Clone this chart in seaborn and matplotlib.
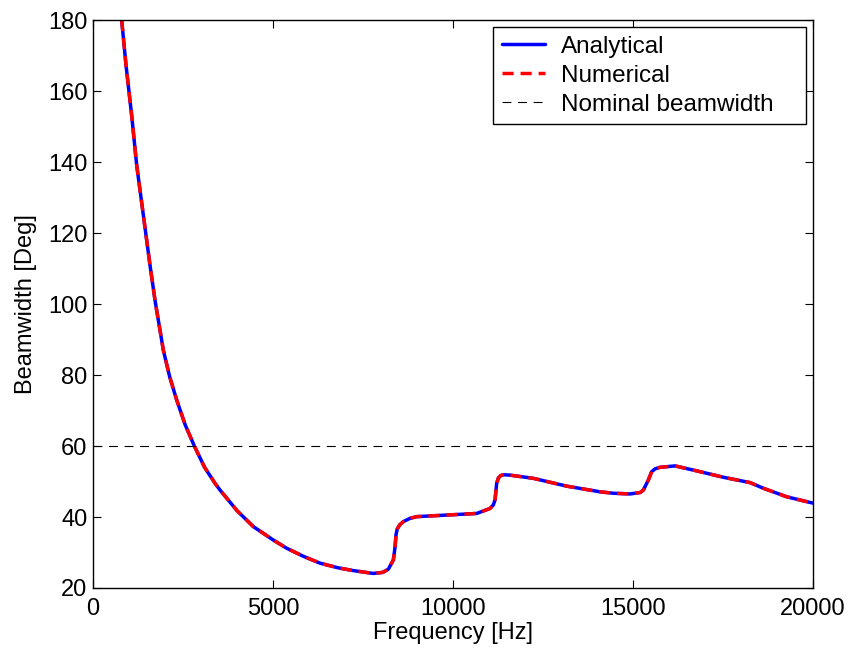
import numpy as np
import pandas as pd
import matplotlib
matplotlib.use("Agg")
import matplotlib.pyplot as plt
import seaborn as sns

freq = [797, 917, 1074, 1213, 1398, 1583, 1722, 1954, 2130, 2324, 2560, 2815,
        3100, 3389, 3528, 4000, 4453, 5009, 5380, 5850, 6306, 6800, 7231, 7787, 8050, 8204,
        8343, 8390, 8417, 8450, 8520, 8620, 8800, 8990, 9917, 10657, 11028, 11120, 11167, 11213,
        11260, 11330, 11400, 11583, 12231, 13157, 14083, 14453, 14917, 15200, 15287,
        15425, 15519, 15620, 15750, 16167, 16769, 17509, 18250, 18620, 19269, 20000]
beamwidth = [180, 167.3, 153.2, 139.2, 125.1, 111.0, 101.1, 87.0, 79.5, 73.0, 66.0, 60.0,
             54.0, 49.5, 47.6, 41.8, 37.3, 33.5, 31.2, 28.9, 27.0, 25.7, 24.9, 24.1, 24.4, 25.3,
             27.9, 31.5, 35.0, 36.6, 37.8, 38.7, 39.6, 40.1, 40.6, 41.0, 42.4, 43.4, 44.8, 49.5,
             51.0, 51.7, 51.9, 51.8, 50.9, 48.7, 47.1, 46.7, 46.5, 46.9, 47.6,
             50.4, 52.8, 53.6, 54.0, 54.4, 53.0, 51.2, 49.7, 48.1, 45.7, 43.9]
nominal_level = 60
x_limits = [0, 20000]
y_limits = [20, 180]

sns.set_style("ticks")
plt.rcParams['font.family'] = ['Liberation Sans', 'DejaVu Sans']
plt.rcParams['text.color'] = 'black'
plt.rcParams['axes.labelcolor'] = 'black'

df = pd.DataFrame({"Frequency": freq, "Beamwidth": beamwidth})

fig = plt.figure(figsize=(8.5, 6.5), dpi=100)
ax = fig.add_axes([0.1094, 0.0954, 0.8471, 0.8736])

sns.lineplot(data=df, x="Frequency", y="Beamwidth", ax=ax, color="blue",
             linewidth=2.5, label="Analytical", estimator=None, sort=False)
sns.lineplot(data=df, x="Frequency", y="Beamwidth", ax=ax, color="red",
             linewidth=2.5, linestyle=(0, (3.2, 2.0)), label="Numerical",
             estimator=None, sort=False)
ax.axhline(nominal_level, color="black", linewidth=0.8, linestyle=(0, (8, 6)),
           label="Nominal beamwidth")

ax.set_xlim(*x_limits)
ax.set_ylim(*y_limits)
ax.set_xticks([0, 5000, 10000, 15000, 20000])
ax.set_yticks(np.arange(20, 181, 20))
ax.set_xlabel("Frequency [Hz]", fontsize=17, labelpad=2)
ax.set_ylabel("Beamwidth [Deg]", fontsize=17, labelpad=8)
ax.tick_params(direction="in", length=6, width=0.8, labelsize=17,
               top=True, right=True, colors="black")
ax.tick_params(axis="x", pad=7)
ax.tick_params(axis="y", pad=4)
for s in ax.spines.values():
    s.set_color("black")
    s.set_linewidth(1.0)

leg = ax.legend(loc="upper left", bbox_to_anchor=(0.5556, 0.9877, 0.4347, 0.0),
                mode="expand", borderaxespad=0.0,
                fontsize=17.5, frameon=True, fancybox=False,
                handlelength=1.8, labelspacing=0.29,
                borderpad=0.35, handletextpad=0.65)
leg.get_frame().set_edgecolor("black")
leg.get_frame().set_linewidth(1.0)
leg.get_frame().set_alpha(1)

fig.savefig("out.png", dpi=100)
